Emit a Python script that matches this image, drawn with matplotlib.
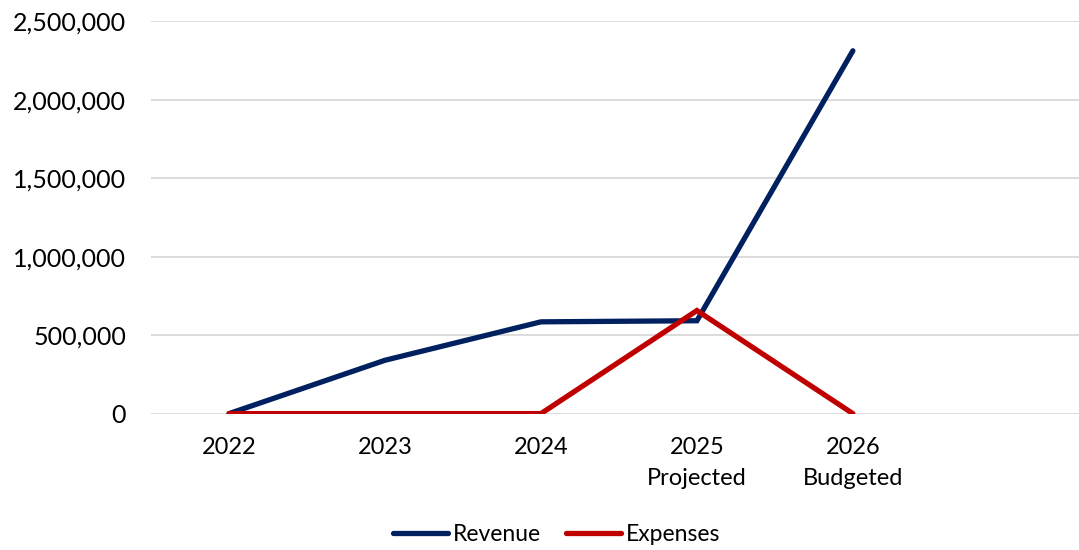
import matplotlib.pyplot as plt
from matplotlib.ticker import FuncFormatter

years = ["2022", "2023", "2024", "2025\nProjected", "2026\nBudgeted"]
revenue = [0, 340000, 585000, 592000, 2313000]
expenses = [0, 0, 0, 657000, 0]

plt.rcParams['font.family'] = ['Lato', 'DejaVu Sans']

fig = plt.figure(figsize=(10.79, 5.5), dpi=100)
ax = fig.add_axes([0.140, 0.248, 0.860, 0.713])

x = list(range(len(years)))
ax.plot(x, revenue, color='#002060', lw=3.8, solid_capstyle='round',
        solid_joinstyle='miter', label='Revenue', zorder=3)
ax.plot(x, expenses, color='#C00000', lw=3.8, solid_capstyle='round',
        solid_joinstyle='miter', label='Expenses', zorder=4)

ax.set_xlim(-0.5, 5.45)
ax.set_ylim(0, 2500000)
ax.set_yticks(range(0, 2500001, 500000))
ax.yaxis.set_major_formatter(FuncFormatter(lambda v, p: f"{int(v):,}"))
ax.set_xticks(x)
ax.set_xticklabels(years, linespacing=1.55)

ax.grid(axis='y', color='#D9D9D9', lw=1.3)
ax.set_axisbelow(True)
for s in ax.spines.values():
    s.set_visible(False)
ax.tick_params(axis='y', length=0, pad=18, labelsize=18, labelcolor='#000000')
ax.tick_params(axis='x', length=0, pad=17, labelsize=17, labelcolor='#000000')

fig.legend(loc='center', bbox_to_anchor=(0.516, 0.029), ncol=2, frameon=False,
           fontsize=16.5, handlelength=2.4, handletextpad=0.2, columnspacing=1.1)

fig.savefig('out.png', dpi=100)
